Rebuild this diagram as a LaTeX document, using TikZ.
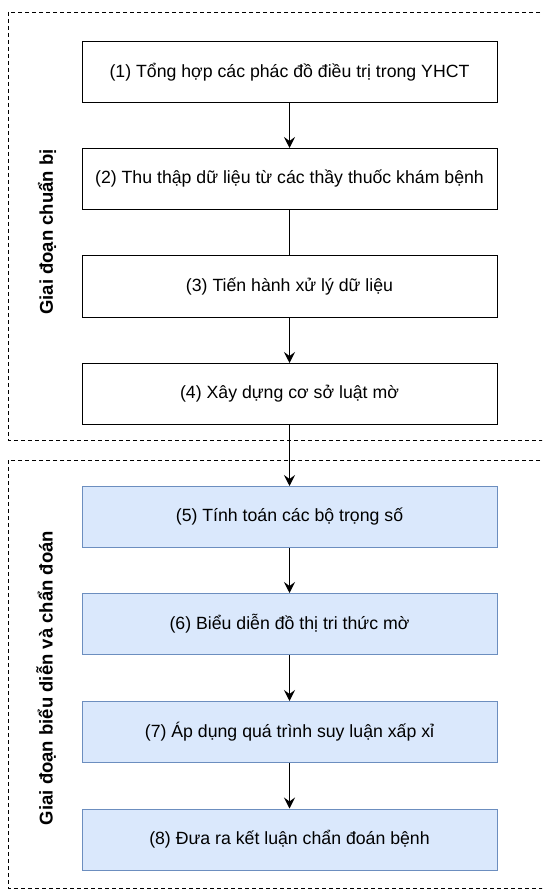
\documentclass[tikz,border=0pt]{standalone}
\usepackage{fontspec}
\setmainfont{Liberation Sans}
\usetikzlibrary{arrows.meta}
\definecolor{bluefill}{HTML}{DAE8FC}
\definecolor{bluedraw}{HTML}{6C8EBF}

\begin{document}
\begin{tikzpicture}[x=1pt, y=-1pt, -{Stealth[length=11pt, width=11pt, inset=4pt]}, line width=1.3pt]
        \tikzstyle{whitebox} = [rectangle, draw=black, fill=white, line width=1pt, minimum width=415pt, minimum height=61pt, font=\fontsize{17.7}{20}\selectfont]
        \tikzstyle{bluebox} = [whitebox, draw=bluedraw, fill=bluefill]
        \tikzstyle{phase} = [draw=black, dashed, line width=0.8pt, dash pattern=on 4pt off 3pt]
        \tikzstyle{phaselabel} = [rotate=90, font=\bfseries\fontsize{18.5}{20}\selectfont]
        \clip (0,0) rectangle (542,890);
        \draw[phase, -] (8,12) rectangle (560,440);
        \draw[phase, -] (8,460) rectangle (560,888);
        \node[phaselabel] (p1) at (47,232) {Giai đoạn chuẩn bị};
        \node[phaselabel] (p2) at (46,678) {Giai đoạn biểu diễn và chẩn đoán};
        \node[whitebox] (b1) at (289.5,72) {(1) Tổng hợp các phác đồ điều trị trong YHCT};
        \node[whitebox] (b2) at (289.5,179) {(2) Thu thập dữ liệu từ các thầy thuốc khám bệnh};
        \node[whitebox] (b3) at (289.5,286.5) {(3) Tiến hành xử lý dữ liệu};
        \node[whitebox] (b4) at (289.5,394) {(4) Xây dựng cơ sở luật mờ};
        \node[bluebox] (b5) at (289.5,517) {(5) Tính toán các bộ trọng số};
        \node[bluebox] (b6) at (289.5,624) {(6) Biểu diễn đồ thị tri thức mờ};
        \node[bluebox] (b7) at (289.5,732) {(7) Áp dụng quá trình suy luận xấp xỉ};
        \node[bluebox] (b8) at (289.5,839.5) {(8) Đưa ra kết luận chẩn đoán bệnh};
        \path
                (b1) edge (b2)
                (b2) edge[-] (b3)
                (b3) edge (b4)
                (b4) edge (b5)
                (b5) edge (b6)
                (b6) edge (b7)
                (b7) edge (b8);
\end{tikzpicture}
\end{document}
